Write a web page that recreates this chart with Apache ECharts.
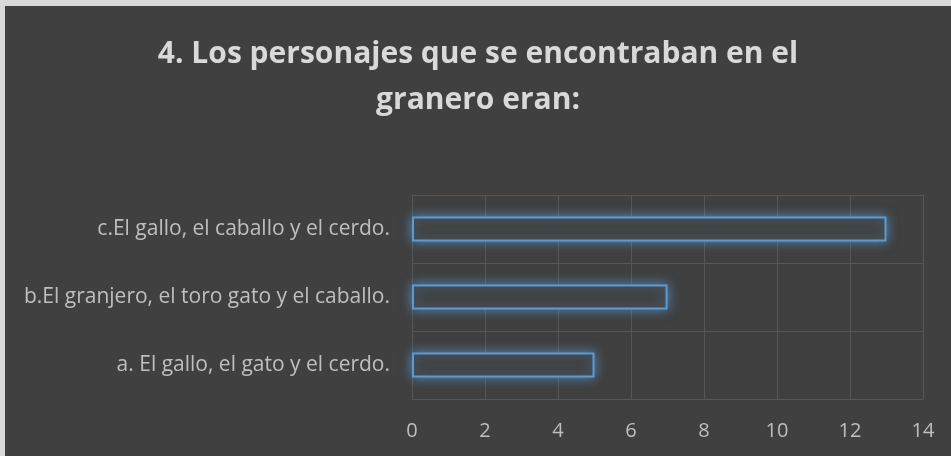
<!DOCTYPE html>
<html>
<head>
<meta charset="utf-8">
<script src="https://cdn.jsdelivr.net/npm/echarts@6/dist/echarts.min.js"></script>
<style>
html, body { margin: 0; padding: 0; background: #d9d9d9; }
#main { position: absolute; left: 5px; top: 6px; width: 946px; height: 450px; background: #404040; }
</style>
</head>
<body>
<div id="main"></div>
<script>
var categories = ['a. El gallo, el gato y el cerdo.', 'b.El granjero, el toro gato y el caballo.', 'c.El gallo, el caballo y el cerdo.'];
var values = [5, 7, 13];
var titleText = '4. Los personajes que se encontraban en el\ngranero eran:';

var chart = echarts.init(document.getElementById('main'));
var option = {
	backgroundColor: '#404040',
	title: {
		text: titleText,
		left: 'center',
		top: 20,
		textStyle: {
			color: '#d9d9d9',
			fontFamily: 'Open Sans',
			fontWeight: 'bold',
			fontSize: 30,
			lineHeight: 46
		}
	},
	grid: {
		left: 407,
		right: 28,
		top: 189,
		bottom: 57
	},
	xAxis: {
		type: 'value',
		min: 0,
		max: 14,
		interval: 2,
		axisLine: { show: false },
		axisTick: { show: false },
		axisLabel: {
			color: '#bfbfbf',
			fontFamily: 'Open Sans',
			fontSize: 20,
			margin: 22
		},
		splitLine: {
			show: true,
			lineStyle: { color: '#575757', width: 1 }
		}
	},
	yAxis: {
		type: 'category',
		data: categories,
		axisLine: { show: false },
		axisTick: { show: false },
		axisLabel: {
			color: '#bfbfbf',
			fontFamily: 'Open Sans',
			fontSize: 21,
			margin: 22
		},
		splitLine: {
			show: true,
			lineStyle: { color: '#575757', width: 1 }
		}
	},
	series: [{
		type: 'bar',
		data: values,
		barWidth: '37%',
		itemStyle: {
			color: '#404040',
			borderColor: '#5b9bd5',
			borderWidth: 2,
			shadowColor: 'rgba(91,155,213,0.8)',
			shadowBlur: 12
		}
	}]
};
chart.setOption(option);

window.onresize = function() {
	chart.resize();
}
</script>
</body>
</html>
